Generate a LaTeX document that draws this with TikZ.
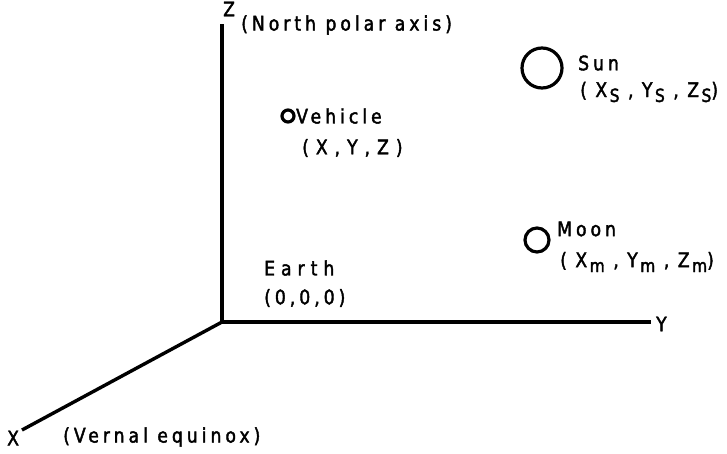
\documentclass[tikz,border=0pt]{standalone}
\usepackage{fontspec}
\newfontfamily\lf[LetterSpace=20,FakeStretch=0.86,FakeBold=2]{DejaVu Sans}
\newcommand{\sbs}[1]{\kern2.5pt\raisebox{-0.45ex}{\fontsize{18}{18}\selectfont #1}}
\newcommand{\gp}{\kern7pt}
\newcommand{\gq}{\kern8.5pt}
\newcommand{\ek}{\kern6pt}
\begin{document}
\begin{tikzpicture}[x=1pt,y=-1pt,
  axis/.style={line width=3.4pt},
  body/.style={circle,draw,line width=3.2pt,inner sep=0pt},
  lbl/.style={anchor=west,inner sep=0pt,font=\lf\fontsize{20}{22}\selectfont}]
\useasboundingbox (0,0) rectangle (727,453);
\coordinate (O) at (222,322);
\coordinate (Ztop) at (222,24);
\coordinate (Yend) at (651,322);
\coordinate (Xend) at (22,430);
\draw[axis] (Ztop) -- (O) -- (Yend);
\draw[axis] (O) -- (Xend);
\node[lbl] (zl) at (223,9) {Z};
\node[lbl] (npa) at (241,25) {(North polar axis)};
\node[lbl] (yl) at (656,324) {Y};
\node[lbl] (xl) at (7,438) {X};
\node[lbl] (ve) at (63,437) {(Vernal equinox)};
\node[lbl] (earth) at (264,268) {E\ek a\ek r\ek t\ek h};
\node[lbl] (eco) at (264,298) {(0,0,0)};
\node[body,minimum size=40pt] (sun) at (542,68) {};
\node[lbl] (sunl) at (578,63) {Sun};
\node[lbl] (sunc) at (580,92) {(\gq X\sbs{S}\gq,\gq Y\sbs{S}\gq,\gq Z\sbs{S})};
\node[body,minimum size=12pt] (veh) at (288,116) {};
\node[lbl] (vehl) at (296,116) {Vehicle};
\node[lbl] (vehc) at (302,148) {(\gp X\gp,\gp Y\gp,\gp Z\gp)};
\node[body,minimum size=24pt] (moon) at (537,240) {};
\node[lbl] (moonl) at (557,229) {Moon};
\node[lbl] (moonc) at (560,262) {(\gq X\sbs{m}\gq,\gq Y\sbs{m}\gq,\gq Z\sbs{m})};
\end{tikzpicture}
\end{document}
